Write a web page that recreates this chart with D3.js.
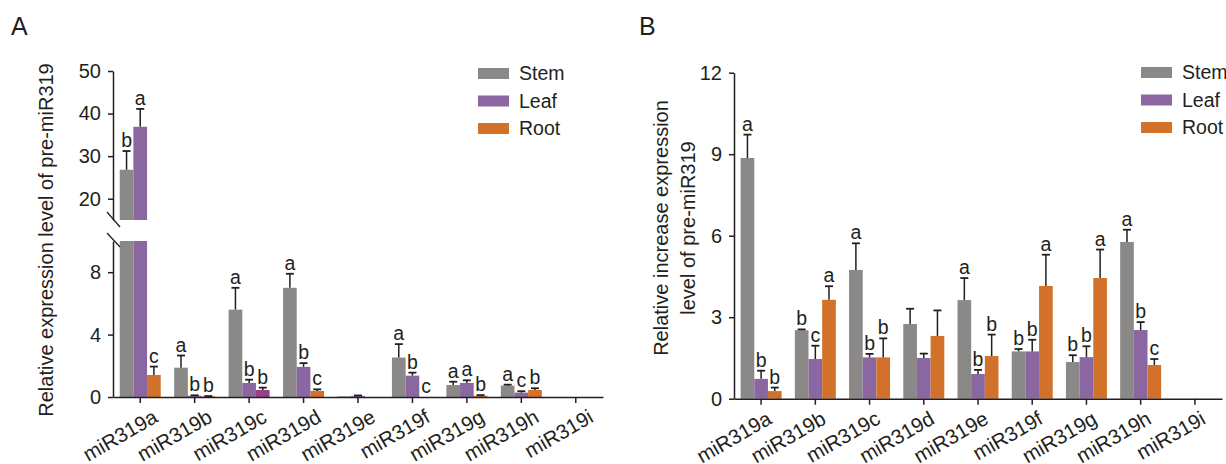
<!DOCTYPE html>
<html lang="en">
<head>
<meta charset="utf-8">
<title>pre-miR319 expression</title>
<script src="https://d3js.org/d3.v7.min.js"></script>
<style>
  body { margin: 0; background: #fff; }
  svg { display: block; font-family: "Liberation Sans", Arial, sans-serif; }
  .axis path, .axis line { stroke: #231f20; stroke-width: 1.5; }
  .axis text { fill: #231f20; font-size: 20px; font-family: "Liberation Sans", Arial, sans-serif; }
</style>
</head>
<body>
<script>
// categories and series
var genes = ["miR319a", "miR319b", "miR319c", "miR319d", "miR319e", "miR319f", "miR319g", "miR319h", "miR319i"];
var tissues = ["Stem", "Leaf", "Root"];

// panel A values (mean) and SE
var stemA    = [26.8, 1.88, 5.6, 7.0, 0.04, 2.53, 0.77, 0.73, 0];
var stemAErr = [4.4, 0.78, 1.4, 0.9, 0, 0.86, 0.21, 0.06, 0];
var leafA    = [36.9, 0.08, 0.9, 1.93, 0.07, 1.37, 0.9, 0.28, 0];
var leafAErr = [4.2, 0.03, 0.21, 0.24, 0.03, 0.19, 0.17, 0.09, 0];
var rootA    = [1.41, 0.04, 0.45, 0.39, 0, 0, 0.08, 0.45, 0];
var rootAErr = [0.54, 0.02, 0.15, 0.1, 0, 0, 0.04, 0.11, 0];
var stemALetters = ["b", "a", "a", "a", "", "a", "a", "a", ""];
var leafALetters = ["a", "b", "b", "b", "", "b", "a", "c", ""];
var rootALetters = ["c", "b", "b", "c", "", "c", "b", "b", ""];

// panel B values (mean) and SE
var stemB    = [8.86, 2.52, 4.74, 2.75, 3.63, 1.74, 1.35, 5.77, 0];
var stemBErr = [0.86, 0.03, 0.98, 0.56, 0.81, 0.09, 0.25, 0.45, 0];
var leafB    = [0.73, 1.46, 1.52, 1.50, 0.91, 1.74, 1.53, 2.53, 0];
var leafBErr = [0.3, 0.49, 0.13, 0.16, 0.15, 0.43, 0.4, 0.29, 0];
var rootB    = [0.28, 3.64, 1.52, 2.31, 1.57, 4.15, 4.44, 1.24, 0];
var rootBErr = [0.13, 0.5, 0.7, 0.94, 0.79, 1.15, 1.05, 0.22, 0];
var stemBLetters = ["a", "b", "a", "", "a", "b", "b", "a", ""];
var leafBLetters = ["b", "c", "b", "", "b", "b", "b", "b", ""];
var rootBLetters = ["b", "a", "b", "", "b", "a", "a", "c", ""];

// tick labels
var ticksAUpper = [20, 30, 40, 50];
var ticksALower = [0, 4, 8];
var ticksB = [0, 3, 6, 9, 12];

var colors = { Stem: "#8b8888", Leaf: "#8a67a0", Root: "#d2712a" };
var ink = "#231f20";

var w = 1226, h = 464;
var svg = d3.select("body").append("svg").attr("width", w).attr("height", h);

function rows(stem, stemErr, leaf, leafErr, root, rootErr, ls, ll, lr) {
  var out = [];
  genes.forEach(function(g, i) {
    out.push({ gene: g, tissue: "Stem", v: stem[i], e: stemErr[i], lab: ls[i] });
    out.push({ gene: g, tissue: "Leaf", v: leaf[i], e: leafErr[i], lab: ll[i] });
    out.push({ gene: g, tissue: "Root", v: root[i], e: rootErr[i], lab: lr[i] });
  });
  return out;
}

var dataA = rows(stemA, stemAErr, leafA, leafAErr, rootA, rootAErr, stemALetters, leafALetters, rootALetters);
var dataB = rows(stemB, stemBErr, leafB, leafBErr, rootB, rootBErr, stemBLetters, leafBLetters, rootBLetters);

function barColor(d) {
  // one odd root bar in panel A is drawn magenta in the original
  if (d.panel == "A" && d.gene == "miR319c" && d.tissue == "Root") return "#993f87";
  return colors[d.tissue];
}
dataA.forEach(function(d) { d.panel = "A"; });
dataB.forEach(function(d) { d.panel = "B"; });

var inner = d3.scaleBand().domain(tissues).range([-20.5, 20.5]);

function xAxisLabels(g, x, y0, dx) {
  g.selectAll("text.xl")
    .data(genes)
    .enter()
    .append("text")
    .attr("class", "xl")
    .attr("transform", function(d) { return "translate(" + (x(d) + x.bandwidth() / 2 + dx) + "," + (y0 + 24) + ") rotate(-30)"; })
    .attr("text-anchor", "end")
    .style("font-size", "20.5px")
    .style("fill", ink)
    .text(function(d) { return d; });
}

function errBars(g, data, x, yOf) {
  var cx = function(d) { return x(d.gene) + x.bandwidth() / 2 + inner(d.tissue) + inner.bandwidth() / 2; };
  var withErr = data.filter(function(d) { return d.e > 0; });
  g.selectAll("line.eb").data(withErr).enter().append("line")
    .attr("x1", cx).attr("x2", cx)
    .attr("y1", function(d) { return yOf(d.v); })
    .attr("y2", function(d) { return yOf(d.v + d.e); })
    .attr("stroke", ink).attr("stroke-width", 1.5);
  g.selectAll("line.cap").data(withErr).enter().append("line")
    .attr("x1", function(d) { return cx(d) - 4; })
    .attr("x2", function(d) { return cx(d) + 4; })
    .attr("y1", function(d) { return yOf(d.v + d.e); })
    .attr("y2", function(d) { return yOf(d.v + d.e); })
    .attr("stroke", ink).attr("stroke-width", 1.8);
  g.selectAll("text.lab").data(data.filter(function(d) { return d.lab; })).enter().append("text")
    .attr("x", cx)
    .attr("y", function(d) { return yOf(d.v + d.e) - 4; })
    .attr("text-anchor", "middle")
    .style("font-size", "19.5px")
    .style("fill", ink)
    .text(function(d) { return d.lab; });
}

function legend(x0, y0) {
  var lg = svg.append("g").attr("transform", "translate(" + x0 + "," + y0 + ")");
  tissues.forEach(function(t, i) {
    lg.append("rect").attr("x", 0).attr("y", i * 27.5).attr("width", 31).attr("height", 11).attr("fill", colors[t]);
    lg.append("text").attr("x", 41).attr("y", i * 27.5 + 5.5).attr("dy", "0.35em")
      .style("font-size", "19.5px").style("fill", ink).text(t);
  });
}

// ---------- Panel A ----------
var xA = d3.scaleBand().domain(genes).range([113, 603]).padding(0);
var yAlow = d3.scaleLinear().domain([0, 10]).range([397, 241]);
var yAup = d3.scaleLinear().domain([15, 50]).range([220, 71]);

var gA = svg.append("g");

// lower segment bars (clipped at 10)
gA.selectAll("rect.low").data(dataA).enter().append("rect")
  .attr("x", function(d) { return xA(d.gene) + xA.bandwidth() / 2 + inner(d.tissue); })
  .attr("width", inner.bandwidth())
  .attr("y", function(d) { return yAlow(Math.min(d.v, 10)); })
  .attr("height", function(d) { return yAlow(0) - yAlow(Math.min(d.v, 10)); })
  .attr("fill", barColor);

// upper segment bars (only values over 15)
var bigA = dataA.filter(function(d) { return d.v > 15; });
gA.selectAll("rect.up").data(bigA).enter().append("rect")
  .attr("x", function(d) { return xA(d.gene) + xA.bandwidth() / 2 + inner(d.tissue); })
  .attr("width", inner.bandwidth())
  .attr("y", function(d) { return yAup(d.v); })
  .attr("height", function(d) { return yAup(15) - yAup(d.v); })
  .attr("fill", barColor);

errBars(gA, dataA.filter(function(d) { return d.v <= 15; }), xA, yAlow);
errBars(gA, bigA, xA, yAup);

gA.append("g").attr("class", "axis").attr("transform", "translate(113,0)")
  .call(d3.axisLeft(yAup).tickValues(ticksAUpper).tickSize(5).tickSizeOuter(0).tickPadding(7));
gA.append("g").attr("class", "axis").attr("transform", "translate(113,0)")
  .call(d3.axisLeft(yAlow).tickValues(ticksALower).tickSize(5).tickSizeOuter(0).tickPadding(7));

// break marks
[[212, 227], [233, 247]].forEach(function(p) {
  gA.append("line").attr("x1", 107).attr("x2", 120).attr("y1", p[0]).attr("y2", p[1])
    .attr("stroke", ink).attr("stroke-width", 1.3);
});

var xAxA = gA.append("g").attr("class", "axis").attr("transform", "translate(0,397)")
  .call(d3.axisBottom(xA).tickSize(6).tickSizeOuter(0));
xAxA.selectAll("text").remove();
xAxisLabels(gA, xA, 397, 19);

gA.append("text")
  .attr("transform", "translate(53,240) rotate(-90)")
  .attr("text-anchor", "middle")
  .style("font-size", "20px").style("fill", ink)
  .text("Relative expression level of pre-miR319");

svg.append("text").attr("x", 11).attr("y", 35).style("font-size", "25px").style("fill", ink).text("A");
legend(478, 68);

// ---------- Panel B ----------
var xB = d3.scaleBand().domain(genes).range([734, 1222]).padding(0);
var yB = d3.scaleLinear().domain([0, 12]).range([398.7, 72.7]);

var gB = svg.append("g");
gB.selectAll("rect.bar").data(dataB).enter().append("rect")
  .attr("x", function(d) { return xB(d.gene) + xB.bandwidth() / 2 + inner(d.tissue); })
  .attr("width", inner.bandwidth())
  .attr("y", function(d) { return yB(d.v); })
  .attr("height", function(d) { return yB(0) - yB(d.v); })
  .attr("fill", barColor);

errBars(gB, dataB, xB, yB);

gB.append("g").attr("class", "axis").attr("transform", "translate(734,0)")
  .call(d3.axisLeft(yB).tickValues(ticksB).tickSize(5).tickSizeOuter(0).tickPadding(7));
var xAxB = gB.append("g").attr("class", "axis").attr("transform", "translate(0,398.7)")
  .call(d3.axisBottom(xB).tickSize(6).tickSizeOuter(0));
xAxB.selectAll("text").remove();
xAxisLabels(gB, xB, 398.7, 12);

gB.append("text")
  .attr("transform", "translate(668,228) rotate(-90)")
  .attr("text-anchor", "middle")
  .style("font-size", "20px").style("fill", ink)
  .text("Relative increase expression");
gB.append("text")
  .attr("transform", "translate(695,228) rotate(-90)")
  .attr("text-anchor", "middle")
  .style("font-size", "20px").style("fill", ink)
  .text("level of pre-miR319");

svg.append("text").attr("x", 639).attr("y", 35).style("font-size", "25px").style("fill", ink).text("B");
legend(1141, 67);
</script>
</body>
</html>
